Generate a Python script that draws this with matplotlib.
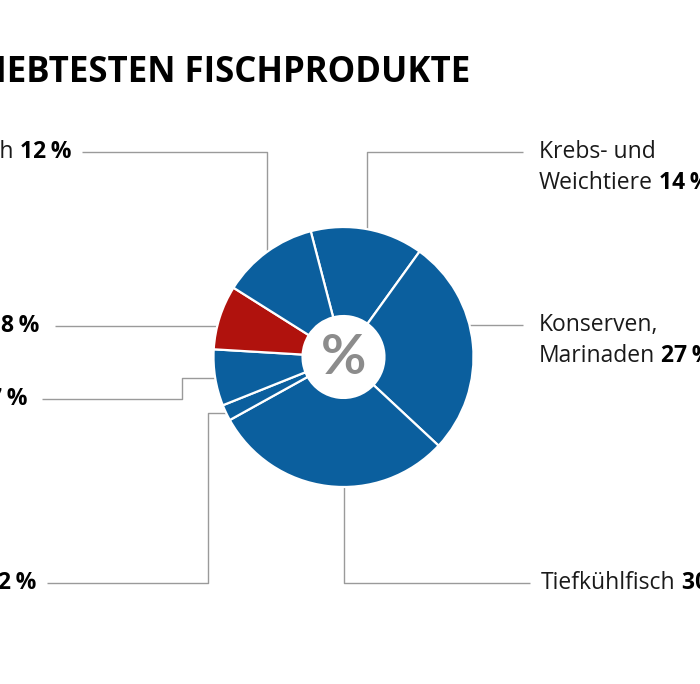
import numpy as np
import matplotlib
matplotlib.use("Agg")
import matplotlib.pyplot as plt

plt.rcParams['font.family'] = ['Open Sans', 'DejaVu Sans']

# data, clockwise from the top
names = ["Krebs- und\nWeichtiere", "Konserven,\nMarinaden", "Tiefkühlfisch",
         "Sonstige", "Fischsalate", "Räucherfisch", "Frischfisch"]
shares = [14, 27, 30, 2, 7, 8, 12]
colors = ["#0B5F9E", "#0B5F9E", "#0B5F9E", "#0B5F9E", "#0B5F9E", "#B0120D", "#0B5F9E"]
title = "DIE BELIEBTESTEN FISCHPRODUKTE"

# layout in pixels (image 700 x 684)
W, H = 700, 684
CX, CY, R = 343.5, 357, 130.0
HOLE = 0.315
side = ["r", "r", "r", "l", "l", "l", "l"]
line_y = [152, 325, 583, 583, 399, 326, 152]
route = ["mid", "h", "v344", "step208", "step182", "h", "mid"]
line_end = [523, 523, 530, 47, 42, 55, 82]
text_x = [539, 539, 541, 36, 27, 39, 72]

LINE_C = "#9a9a9a"
TXT_C = "#1a1a1a"
FS = 16.5


def P(x, y):
    return (x - CX) / R, (CY - y) / R


fig = plt.figure(figsize=(W / 100, H / 100), dpi=100)
ax = fig.add_axes([0, 0, 1, 1])

wedges, _ = ax.pie(shares, colors=colors, startangle=90 + 15 - 0.4, counterclock=False,
                   radius=1, wedgeprops=dict(width=1 - HOLE, edgecolor="white", linewidth=1.6))
ax.set_xlim(-CX / R, (W - CX) / R)
ax.set_ylim(-(H - CY) / R, CY / R)
ax.set_aspect("equal")
ax.axis("off")

ax.text(0, -0.01, "%", ha="center", va="center", fontsize=40, color="#8c8c8c",
        fontweight="bold", family=["Lato", "DejaVu Sans"])

renderer = fig.canvas.get_renderer()


def width_px(t):
    return t.get_window_extent(renderer).width


for i, w in enumerate(wedges):
    mid = np.deg2rad((w.theta1 + w.theta2) / 2)
    ly = (CY - line_y[i]) / R
    ex = (line_end[i] - CX) / R
    sgn = 1 if side[i] == "r" else -1
    if route[i] == "mid":
        ax_x, ax_y = np.cos(mid), np.sin(mid)
        xs, ys = [ax_x, ax_x, ex], [ax_y, ly, ly]
    elif route[i] == "h":
        x0 = sgn * np.sqrt(1 - ly ** 2)
        xs, ys = [x0, ex], [ly, ly]
    elif route[i].startswith("v"):
        vx = (float(route[i][1:]) - CX) / R
        y0 = -np.sqrt(1 - vx ** 2) if ly < 0 else np.sqrt(1 - vx ** 2)
        xs, ys = [vx, vx, ex], [y0, ly, ly]
    else:
        sx = (float(route[i][4:]) - CX) / R
        ax_x, ax_y = np.cos(mid), np.sin(mid)
        xs, ys = [ax_x, sx, sx, ex], [ax_y, ax_y, ly, ly]
    ax.plot(xs, ys, color=LINE_C, lw=1.0, solid_capstyle="butt", zorder=0)

    value = "%d\u2009%%" % shares[i]
    lines = names[i].split("\n")
    base = line_y[i] + 6
    if side[i] == "r":
        x = text_x[i]
        for k, ln in enumerate(lines):
            t = ax.text(*P(x, base + 31 * k), ln, ha="left", va="baseline",
                        fontsize=FS, color=TXT_C)
        wl = width_px(t)
        ax.text(*P(x + wl + 6, base + 31 * (len(lines) - 1)), value, ha="left",
                va="baseline", fontsize=FS, fontweight="bold", color="black")
    else:
        x = text_x[i]
        tv = ax.text(*P(x, base), value, ha="right", va="baseline", fontsize=FS,
                     fontweight="bold", color="black")
        wv = width_px(tv)
        ax.text(*P(x - wv - 6, base), names[i].replace("\n", " "), ha="right",
                va="baseline", fontsize=FS, color=TXT_C)

ax.text(*P(470, 82), title, ha="right", va="baseline", fontsize=25,
        fontweight="bold", color="black")

fig.savefig("out.png", dpi=100, facecolor="white")
